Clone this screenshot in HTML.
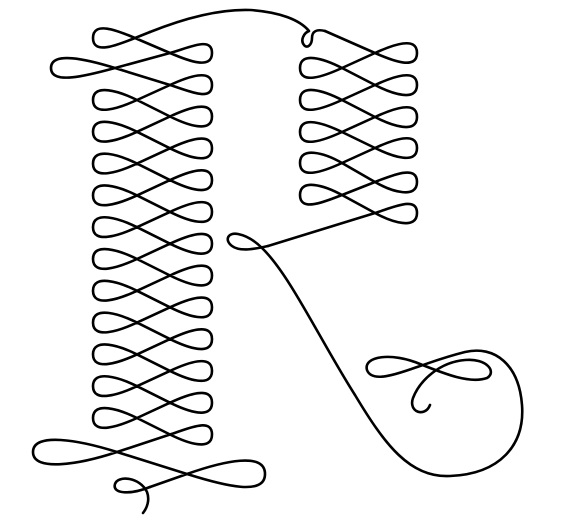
<!DOCTYPE html>
<html><head><meta charset="utf-8"><style>
html,body{margin:0;padding:0;background:#fff;}
svg{display:block;}
</style></head><body>
<svg id="art" width="574" height="525" viewBox="0 0 574 525">
<g fill="none" stroke="#000" stroke-width="2.6" stroke-linecap="round" stroke-linejoin="round">
<path id="topArc" d="M 325 31 C 317 29, 312 31, 312 38 C 312 45, 307 49, 304 45 C 300 40, 304 33, 309 31 C 300 20, 280 12, 250 10 C 220 9, 185 18, 150 32"/>
<path id="leftCol"/>
<path id="rightCol"/>
<path id="leg" d="M 268 246 C 255 249, 240 252, 232 246 C 224 240, 228 232, 238 234 C 248 236, 256 242, 262 248 C 290 275, 320 340, 355 395 C 385 445, 410 478, 450 476 C 500 474, 525 445, 522 405 C 519 365, 495 345, 465 352 C 445 357, 432 362, 420 366 C 400 373, 372 384, 367 370 C 363 356, 392 352, 420 364 C 445 374, 470 384, 487 378 C 497 372, 487 358, 465 360 C 440 362, 420 380, 413 398 C 408 412, 425 418, 430 405"/>
<path id="bottomTail" d="M 150 487 C 130 495, 112 494, 115 484 C 118 475, 140 477, 147 492 C 150 500, 147 508, 143 513"/>
</g>
</svg>
<script>
function loopPath(prev, tips, next){
  var d = 'M ' + prev[0] + ' ' + prev[1];
  for (var i=0;i<tips.length;i++){
    var t = tips[i];
    var p = i===0 ? prev : tips[i-1];
    var n = i===tips.length-1 ? next : tips[i+1];
    var ix=t[0]-p[0], iy=t[1]-p[1], il=Math.hypot(ix,iy); ix/=il; iy/=il;
    var ox=n[0]-t[0], oy=n[1]-t[1], ol=Math.hypot(ox,oy); ox/=ol; oy/=ol;
    var k = t[4] || 20, h = t[3];
    var s = iy<0 ? -1 : 1;
    var ex=t[2], ey=t[1];
    d += ' L ' + t[0] + ' ' + t[1];
    d += ' C ' + (t[0]+ix*k).toFixed(1) + ' ' + (t[1]+iy*k).toFixed(1) + ', ' + ex + ' ' + (ey+s*h).toFixed(1) + ', ' + ex + ' ' + ey;
    d += ' C ' + ex + ' ' + (ey-s*h).toFixed(1) + ', ' + (t[0]-ox*k).toFixed(1) + ' ' + (t[1]-oy*k).toFixed(1) + ', ' + t[0] + ' ' + t[1];
  }
  d += ' L ' + next[0] + ' ' + next[1];
  return d;
}
var left = [[135,38,93,17],[170,53,212,17],[115,68,51,17,30],[170,85,212,17]];
for (var k=0;k<=10;k++){
  left.push([137, 100+31.8*k, 93, 17]);
  left.push([170, 116.5+31.8*k, 212, 17]);
}
left.push([117,452,33,20,40]);
left.push([187,474,265,22,40]);
document.getElementById('leftCol').setAttribute('d', loopPath([150,32], left, [150,487]));
var right = [];
var ry = [53,68,85,100,117,132,148,163,182,195,213];
for (var j=0;j<ry.length;j++){
  if (j%2===0) right.push([375, ry[j], 417, 17]);
  else right.push([342, ry[j], 300, 17]);
}
document.getElementById('rightCol').setAttribute('d', loopPath([325,31], right, [268,246]));
</script>
</body></html>
